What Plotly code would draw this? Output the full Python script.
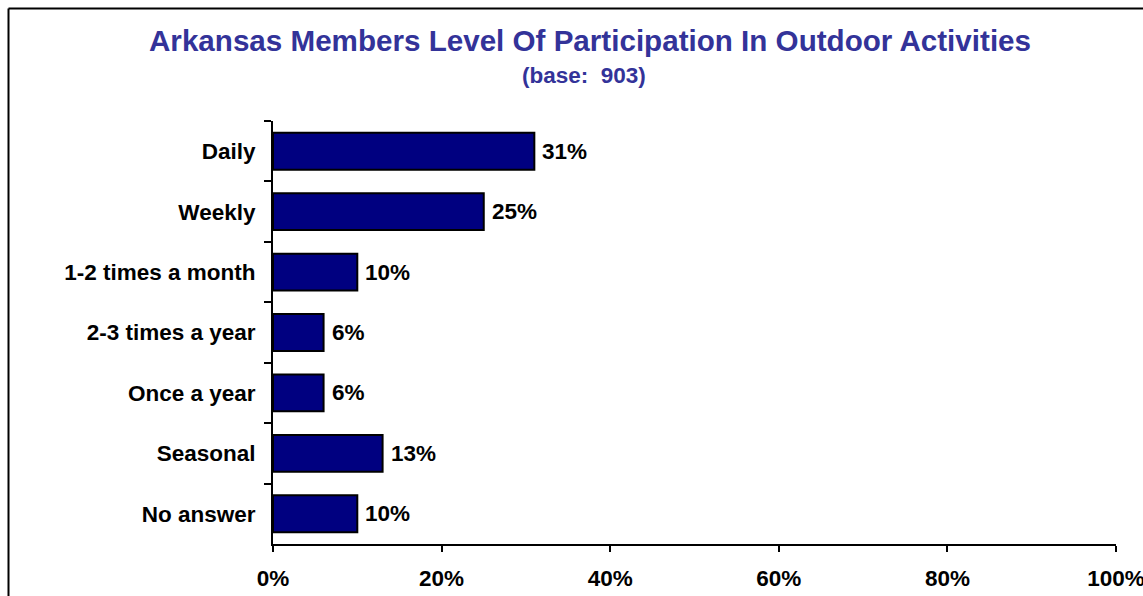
import plotly.graph_objects as go

categories = ["Daily", "Weekly", "1-2 times a month", "2-3 times a year", "Once a year", "Seasonal", "No answer"]
values = [0.31, 0.25, 0.10, 0.06, 0.06, 0.13, 0.10]
value_labels = ["31%", "25%", "10%", "6%", "6%", "13%", "10%"]
x_ticks = [0, 0.2, 0.4, 0.6, 0.8, 1.0]
x_tick_labels = ["0%", "20%", "40%", "60%", "80%", "100%"]

W, H = 1143, 596
ML, MR, MT, MB = 273, 27, 121, 52
PW, PH = W - ML - MR, H - MT - MB

def px_to_paper_x(px):
    return (px - ML) / PW

def px_to_paper_y(py):
    return 1 - (py - MT) / PH

FONT = "Liberation Sans, Arial, sans-serif"
BOLD = dict(family=FONT, size=22.5, color="black", weight="bold")

fig = go.Figure(go.Bar(
    y=categories, x=values, orientation="h",
    marker=dict(color="#000080", line=dict(color="black", width=2)),
    hoverinfo="skip",
))

annotations = [
    dict(text=lbl, x=v, y=c, xref="x", yref="y", xanchor="left", yanchor="middle",
         xshift=6, showarrow=False, font=BOLD)
    for c, v, lbl in zip(categories, values, value_labels)
]
annotations += [
    dict(text="Arkansas Members Level Of Participation In Outdoor Activities",
         xref="paper", yref="paper", x=px_to_paper_x(590), y=px_to_paper_y(40),
         xanchor="center", yanchor="middle", showarrow=False,
         font=dict(family=FONT, size=29.6, color="#333399", weight="bold")),
    dict(text="(base:&nbsp; 903)",
         xref="paper", yref="paper", x=px_to_paper_x(584), y=px_to_paper_y(76),
         xanchor="center", yanchor="middle", showarrow=False,
         font=dict(family=FONT, size=22.5, color="#333399", weight="bold")),
]

fig.update_layout(
    width=W, height=H,
    margin=dict(l=ML, r=MR, t=MT, b=MB, autoexpand=False),
    paper_bgcolor="white", plot_bgcolor="white",
    bargap=0.39, showlegend=False,
    font=BOLD,
    xaxis=dict(range=[0, 1], tickvals=x_ticks, ticktext=x_tick_labels, automargin=False,
               showgrid=False, zeroline=False, showline=True, linecolor="black", linewidth=2,
               ticks="outside", ticklen=6, tickwidth=2, tickcolor="black",
               tickfont=BOLD, ticklabelstandoff=7, ticklabeloverflow="allow"),
    yaxis=dict(autorange="reversed", showgrid=False, zeroline=False, showline=True, automargin=False,
               linecolor="black", linewidth=2, ticks="outside", ticklen=7, tickwidth=2,
               tickcolor="black", tickson="boundaries",
               tickfont=BOLD, ticklabelstandoff=11),
    annotations=annotations,
    shapes=[
        dict(type="line", xref="paper", yref="paper", x0=px_to_paper_x(8.5), x1=px_to_paper_x(1150),
             y0=px_to_paper_y(8.5), y1=px_to_paper_y(8.5), line=dict(color="black", width=2)),
        dict(type="line", xref="paper", yref="paper", x0=px_to_paper_x(8.5), x1=px_to_paper_x(8.5),
             y0=px_to_paper_y(8.5), y1=px_to_paper_y(600), line=dict(color="black", width=2)),
    ],
)

post = """
document.documentElement.style.overflow='hidden';
document.body.style.margin='0';
document.body.style.overflow='hidden';
"""
fig.write_html("out.html", config={"displayModeBar": False}, post_script=post)
